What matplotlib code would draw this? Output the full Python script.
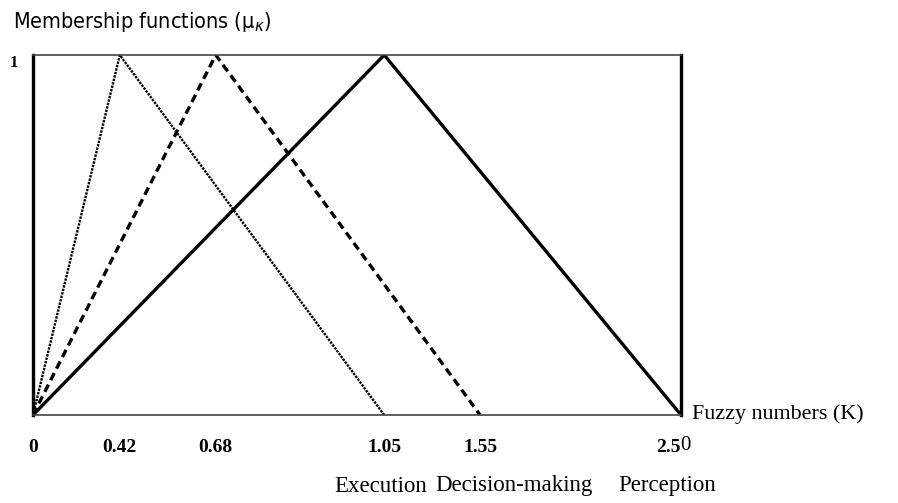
import numpy as np
import matplotlib.pyplot as plt

# tick values on the K axis and where they sit on the picture (axes fraction)
k_ticks = [0, 0.42, 0.68, 1.05, 1.55, 2.5]
k_labels = ['0', '0.42', '0.68', '1.05', '1.55', '2.5']
k_frac = [0.0, 0.134, 0.282, 0.542, 0.690, 1.0]

# triangular membership functions (K, mu)
exec_k = [0, 0.42, 1.05]
exec_mu = [0, 1, 0]
dec_k = [0, 0.68, 1.55]
dec_mu = [0, 1, 0]
perc_k = [0, 1.05, 2.5]
perc_mu = [0, 1, 0]

categories = ['Execution', 'Decision-making', 'Perception']
cat_x = [381, 514, 667]  # pixel centres under the axis

W, H = 898, 503
fig = plt.figure(figsize=(W / 100, H / 100), dpi=100)
ax = fig.add_axes([33 / W, (H - 415) / H, 648 / W, 360 / H])


def fwd(x):
    return np.interp(x, k_ticks, k_frac)


def inv(x):
    return np.interp(x, k_frac, k_ticks)


ax.set_xscale('function', functions=(fwd, inv))
ax.set_xlim(0, 2.5)
ax.set_ylim(0, 1)

ax.plot(exec_k, exec_mu, color='black', lw=1.7, linestyle=(0, (1, 0.5)))
ax.plot(dec_k, dec_mu, color='black', lw=2.4, linestyle=(0, (2.4, 1.5)))
ax.plot(perc_k, perc_mu, color='black', lw=2.4)

for s in ['top', 'bottom']:
    ax.spines[s].set_color('#444444')
    ax.spines[s].set_linewidth(1.2)
for s in ['left', 'right']:
    ax.spines[s].set_color('black')
    ax.spines[s].set_linewidth(2.4)

ax.set_xticks(k_ticks)
ax.set_xticklabels(k_labels, fontfamily='Liberation Serif', fontweight='bold', fontsize=14)
ax.tick_params(axis='x', length=0, pad=17)
ax.get_xticklabels()[-1].set_ha('right')
ax.set_yticks([1])
ax.set_yticklabels(['1'], fontfamily='Liberation Serif', fontweight='bold', fontsize=12,
                   va='top')
ax.tick_params(axis='y', length=0, pad=11)

ax.annotate('0', xy=(2.5, 0), xytext=(-1, -31), textcoords='offset pixels',
            ha='left', va='center', fontfamily='Liberation Serif', fontsize=15)

fig.text(692 / W, 1 - 414 / H, 'Fuzzy numbers (K)', ha='left', va='center',
         fontfamily='Liberation Serif', fontsize=15.8)
for name, px in zip(categories, cat_x):
    fig.text(px / W, 1 - 486 / H, name, ha='center', va='center',
             fontfamily='Liberation Serif', fontsize=16.5)

fig.text(13 / W, 1 - 22 / H, r'Membership functions (μ$_{\kappa}$)', ha='left', va='center',
         fontfamily=['Liberation Sans Narrow', 'DejaVu Sans'], fontstretch='condensed',
         fontsize=15.5)

fig.savefig('out.png', dpi=100)
